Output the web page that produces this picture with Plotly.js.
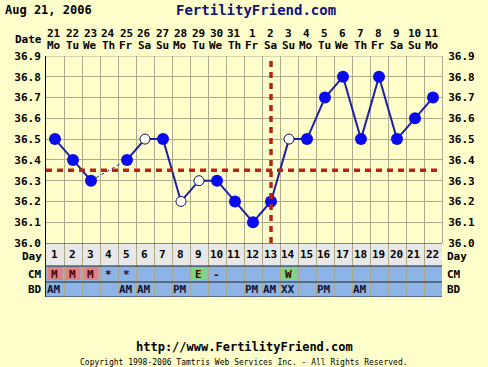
<!DOCTYPE html>
<html><head><meta charset="utf-8">
<script src="https://cdn.plot.ly/plotly-3.0.1.min.js"></script>
<style>html,body{margin:0;padding:0;background:#FFFFCC;}</style>
</head><body>
<div id="chart" style="width:488px;height:367px;"></div>
<script>
// ---- data ----
const cycleDays = [1,2,3,4,5,6,7,8,9,10,11,12,13,14,15,16,17,18,19,20,21,22];
const dateNums = ['21','22','23','24','25','26','27','28','29','30','31','1','2','3','4','5','6','7','8','9','10','11'];
const weekdays = ['Mo','Tu','We','Th','Fr','Sa','Su','Mo','Tu','We','Th','Fr','Sa','Su','Mo','Tu','We','Th','Fr','Sa','Su','Mo'];
const temps = [36.5,36.4,36.3,null,36.4,36.5,36.5,36.2,36.3,36.3,36.2,36.1,36.2,36.5,36.5,36.7,36.8,36.5,36.8,36.5,36.6,36.7];
const openDays = [6,8,9,14];
const coverline = 36.35;
const ovulationDay = 13;
const cmCodes = ['M','M','M','*','*','','','','E','-','','','','W','','','','','','','',''];
const bdCodes = ['AM','','','','AM','AM','','PM','','','','PM','AM','XX','','PM','','AM','','','',''];
const yTicks = [36.0,36.1,36.2,36.3,36.4,36.5,36.6,36.7,36.8,36.9];

// ---- styles ----
const FONT = 'DejaVu Sans Mono, monospace';
const bg = '#FFFFCC';
const gridCol = '#ADAA8C';
const lineCol = '#1E1EA6';
const dotCol = '#0A0AEE';
const redCol = '#BB2211';

// split traces
const filledX = [], filledY = [], openX = [], openY = [];
cycleDays.forEach((d,i)=>{
  if (temps[i]===null) return;
  if (openDays.includes(d)) { openX.push(d); openY.push(temps[i]); }
  else { filledX.push(d); filledY.push(temps[i]); }
});
// gap bridging segments
const gapX = [], gapY = [];
for (let i=0;i<temps.length;i++){
  if (temps[i]===null){
    let a=i-1, b=i+1;
    while(a>=0 && temps[a]===null) a--;
    while(b<temps.length && temps[b]===null) b++;
    if (a>=0 && b<temps.length){ gapX.push(cycleDays[a], cycleDays[b], null); gapY.push(temps[a], temps[b], null); }
  }
}

const traces = [
  {x: gapX, y: gapY, mode:'lines', line:{color:lineCol, width:1, dash:'3px,3px'}, hoverinfo:'skip', xaxis:'x', yaxis:'y'},
  {x: cycleDays, y: temps, mode:'lines', connectgaps:false, line:{color:lineCol, width:2}, xaxis:'x', yaxis:'y'},
  {x: filledX, y: filledY, mode:'markers', marker:{size:12, color:dotCol, line:{width:0}}, xaxis:'x', yaxis:'y'},
  {x: openX, y: openY, mode:'markers', marker:{size:10, color:'#FFFFF4', line:{width:1, color:'#101060'}}, xaxis:'x', yaxis:'y'},
  {x:[1], y:[36.0], mode:'markers', marker:{opacity:0}, xaxis:'x', yaxis:'y3', hoverinfo:'skip'}
];

// table geometry (yaxis2 units = px)
const BD0=0, BD1=15, CM0=15, CM1=31, DAY0=31, DAY1=54;
const shapes = [];
shapes.push({type:'rect', xref:'x', yref:'y2', x0:0.5, x1:22.5, y0:DAY0, y1:DAY1, fillcolor:'#E8E8E8', line:{width:0}, layer:'below'});
shapes.push({type:'rect', xref:'x', yref:'y2', x0:0.5, x1:22.5, y0:CM0, y1:CM1, fillcolor:'#8CB4E6', line:{width:0}, layer:'below'});
shapes.push({type:'rect', xref:'x', yref:'y2', x0:0.5, x1:22.5, y0:BD0, y1:BD1, fillcolor:'#8CB4E6', line:{width:0}, layer:'below'});
cmCodes.forEach((c,i)=>{
  let col = null;
  if (c==='M') col = '#E38080';
  if (c==='E' || c==='W') col = '#7ED67E';
  if (col) shapes.push({type:'rect', xref:'x', yref:'y2', x0:cycleDays[i]-0.42, x1:cycleDays[i]+0.42, y0:CM0+2, y1:CM1-1, fillcolor:col, line:{width:0}, layer:'below'});
});
[DAY1, DAY0, CM0, BD0].forEach(v=>{
  shapes.push({type:'line', xref:'paper', yref:'y2', x0:0, x1:1, y0:v, y1:v, line:{color:'#222', width:1}});
});
shapes.push({type:'line', xref:'paper', yref:'y', x0:0, x1:1, y0:coverline, y1:coverline, line:{color:redCol, width:3.5, dash:'6px,5px'}, layer:'above'});
shapes.push({type:'line', xref:'x', yref:'y', x0:ovulationDay, x1:ovulationDay, y0:36.0, y1:36.92, line:{color:redCol, width:3.5, dash:'6px,5px'}, layer:'above'});
shapes.push({type:'line', xref:'paper', yref:'y', x0:0, x1:1, y0:36.9, y1:36.9, line:{color:gridCol, width:1}, layer:'below'});

const annotations = [];
const f11 = {family:FONT, size:11, color:'#000', weight:'bold'};
cycleDays.forEach((d,i)=>{
  annotations.push({x:d-0.04, xref:'x', y:1, yref:'paper', yanchor:'middle', yshift:23, text:dateNums[i], showarrow:false, font:f11});
  annotations.push({x:d-0.04, xref:'x', y:1, yref:'paper', yanchor:'middle', yshift:11, text:weekdays[i], showarrow:false, font:f11});
  annotations.push({x:d-0.04, xref:'x', y:(DAY0+DAY1)/2, yref:'y2', yanchor:'middle', text:String(d), showarrow:false, font:f11});
  if (cmCodes[i]) annotations.push({x:d-0.04, xref:'x', y:(CM0+CM1)/2, yref:'y2', yanchor:'middle', text:cmCodes[i], showarrow:false, font:{family:FONT, size:11, color:'#400000', weight:'bold'}});
  if (bdCodes[i]) annotations.push({x:d-0.04, xref:'x', y:(BD0+BD1)/2, yref:'y2', yanchor:'middle', text:bdCodes[i], showarrow:false, font:{family:FONT, size:11, color:'#101030', weight:'bold'}});
});
annotations.push({x:0, xref:'paper', xanchor:'right', xshift:-2, y:1, yref:'paper', yanchor:'middle', yshift:17, text:'Date', showarrow:false, font:f11});
const rowLabels = [['Day',(DAY0+DAY1)/2 - 1.5],['CM',(CM0+CM1)/2],['BD',(BD0+BD1)/2]];
rowLabels.forEach(r=>{
  annotations.push({x:0, xref:'paper', xanchor:'right', xshift:-2, y:r[1], yref:'y2', yanchor:'middle', text:r[0], showarrow:false, font:f11});
  annotations.push({x:1, xref:'paper', xanchor:'left', xshift:3, y:r[1], yref:'y2', yanchor:'middle', text:r[0], showarrow:false, font:f11});
});
annotations.push({x:-0.1086, xref:'paper', xanchor:'left', y:1, yref:'paper', yanchor:'middle', yshift:46, text:'Aug 21, 2006', showarrow:false, font:{family:FONT, size:12, color:'#000', weight:'bold'}});
annotations.push({x:0.5, xref:'paper', xanchor:'center', xshift:12, y:1, yref:'paper', yanchor:'middle', yshift:46, text:'FertilityFriend.com', showarrow:false, font:{family:FONT, size:14, color:'#10107F', weight:'bold'}});
annotations.push({x:0.5, xref:'paper', xanchor:'center', y:0, yref:'paper', yanchor:'middle', yshift:-50, text:'http://www.FertilityFriend.com', showarrow:false, font:{family:FONT, size:12, color:'#000', weight:'bold'}});
annotations.push({x:0.5, xref:'paper', xanchor:'center', y:0, yref:'paper', yanchor:'middle', yshift:-65, text:'Copyright 1998-2006 Tamtris Web Services Inc. - All Rights Reserved.', showarrow:false, font:{family:FONT, size:8, color:'#000'}});

const tickText = yTicks.map(v=>v.toFixed(1));
const layout = {
  width:488, height:367,
  margin:{l:46, r:46, t:56, b:70, pad:0},
  paper_bgcolor:bg, plot_bgcolor:bg,
  showlegend:false,
  xaxis:{range:[0.5,22.5], tickmode:'linear', tick0:0.5, dtick:1, showticklabels:false, ticks:'', showgrid:true, gridcolor:gridCol, gridwidth:1, zeroline:false, showline:false, fixedrange:true, anchor:'y2'},
  yaxis:{domain:[54/241,1], range:[36.0,36.9], tickvals:yTicks, ticktext:tickText, showgrid:true, gridcolor:gridCol, zeroline:false, showline:true, linecolor:'#000', linewidth:1, ticks:'', tickfont:f11, anchor:'x', ticklabelstandoff:2},
  yaxis3:{overlaying:'y', side:'right', range:[36.0,36.9], tickvals:yTicks, ticktext:tickText, showgrid:false, zeroline:false, showline:true, linecolor:gridCol, ticks:'', tickfont:f11, anchor:'x', ticklabelstandoff:3},
  yaxis2:{domain:[0,54/241], range:[0,54], showgrid:false, zeroline:false, showticklabels:false, ticks:'', showline:true, linecolor:'#222', anchor:'x'},
  shapes: shapes,
  annotations: annotations
};

Plotly.newPlot('chart', traces, layout, {staticPlot:true, displayModeBar:false});
</script>
</body></html>
